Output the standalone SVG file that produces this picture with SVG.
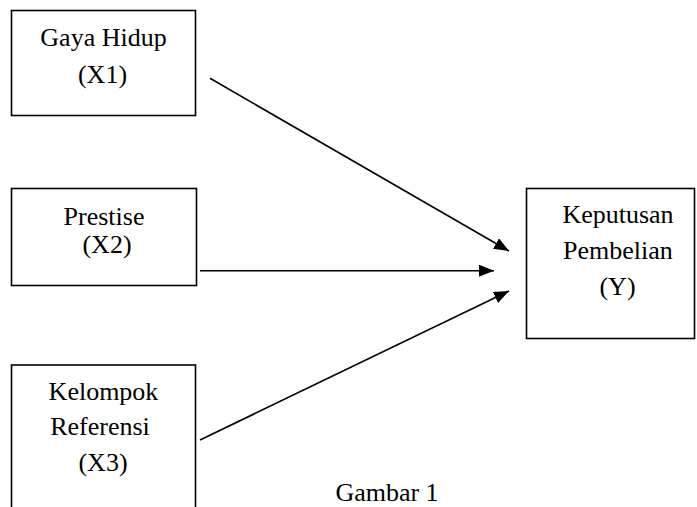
<svg xmlns="http://www.w3.org/2000/svg" width="697" height="507" viewBox="0 0 697 507">
<style>
.box{fill:#fff;stroke:#000;stroke-width:1.6}
.t{font-family:"Times New Roman","Liberation Serif",serif;font-size:26px;fill:#000;text-anchor:middle}
.c{stroke:#000;stroke-width:1.6;fill:none}
</style>
<defs>
<marker id="ah" viewBox="0 0 15 12" refX="15" refY="6" markerWidth="15" markerHeight="12" markerUnits="userSpaceOnUse" orient="auto">
<path d="M0,0 L15,6 L0,12 Z" fill="#000"/>
</marker>
</defs>
<rect width="697" height="507" fill="#fff"/>
<g id="x1">
<rect class="box" x="11.5" y="10.5" width="184" height="105"/>
<text class="t" x="103.5" y="46">Gaya Hidup</text>
<text class="t" x="102.5" y="83">(X1)</text>
</g>
<g id="x2">
<rect class="box" x="11.5" y="188.5" width="185" height="97"/>
<text class="t" x="104" y="225">Prestise</text>
<text class="t" x="107" y="253">(X2)</text>
</g>
<g id="x3">
<rect class="box" x="11.5" y="365" width="184" height="150"/>
<text class="t" x="103.5" y="400">Kelompok</text>
<text class="t" x="100" y="435">Referensi</text>
<text class="t" x="103" y="471">(X3)</text>
</g>
<g id="y">
<rect class="box" x="526.5" y="188.5" width="168" height="150"/>
<text class="t" x="618" y="223">Keputusan</text>
<text class="t" x="618" y="259">Pembelian</text>
<text class="t" x="617.5" y="295">(Y)</text>
</g>
<g id="caption">
<text class="t" x="387" y="501">Gambar 1</text>
</g>
<g id="connectors">
<line class="c" x1="210" y1="78.3" x2="509" y2="251" marker-end="url(#ah)"/>
<line class="c" x1="200" y1="270.7" x2="494" y2="270.7" marker-end="url(#ah)"/>
<line class="c" x1="200" y1="440" x2="509" y2="291" marker-end="url(#ah)"/>
</g>
</svg>
